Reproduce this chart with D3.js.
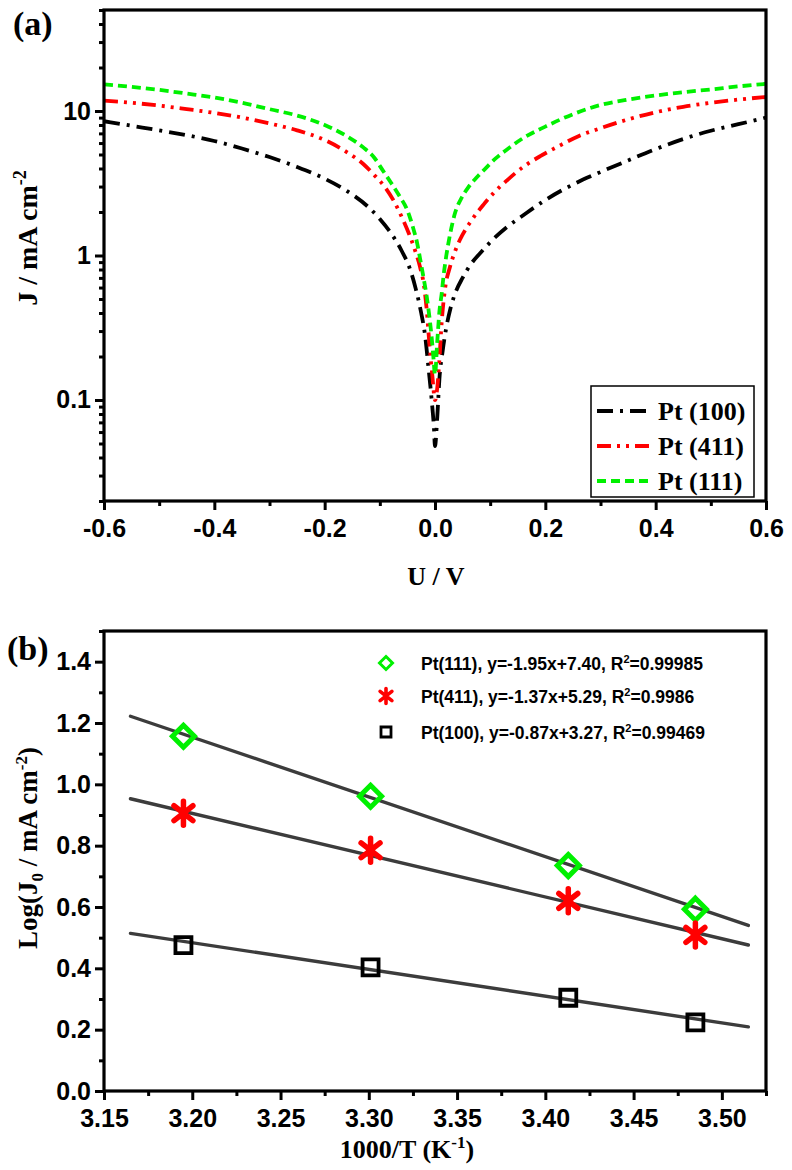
<!DOCTYPE html>
<html><head><meta charset="utf-8">
<script src="https://cdn.jsdelivr.net/npm/d3@7"></script>
<style>
html,body{margin:0;padding:0;background:#fff;}
svg{display:block;}
</style></head>
<body>
<svg id="chart" width="792" height="1170"></svg>
<script>
// ---------- Panel (a) data: |J| (mA cm^-2) vs U (V) ----------
const seriesNamesA = ["Pt (100)", "Pt (411)", "Pt (111)"];
const seriesColorsA = ["#000000", "#ff0000", "#00f000"];

const U_100 = [-0.60,-0.55,-0.50,-0.45,-0.40,-0.35,-0.30,-0.25,-0.20,-0.16,-0.12,-0.10,-0.08,-0.06,-0.045,-0.035,-0.025,-0.018,-0.012,-0.006,-0.002,0.000,0.004,0.008,0.014,0.020,0.028,0.036,0.050,0.065,0.085,0.105,0.13,0.16,0.20,0.25,0.30,0.35,0.40,0.45,0.50,0.55,0.60];
const J_100 = [8.5,7.9,7.35,6.8,6.2,5.5,4.8,4.1,3.4,2.8,2.15,1.79,1.43,1.07,0.80,0.59,0.40,0.28,0.17,0.10,0.065,0.048,0.075,0.14,0.22,0.31,0.43,0.54,0.70,0.87,1.07,1.29,1.57,1.9,2.42,3.1,3.78,4.55,5.45,6.4,7.3,8.1,9.0];

const U_411 = [-0.60,-0.55,-0.50,-0.45,-0.40,-0.35,-0.30,-0.25,-0.20,-0.16,-0.13,-0.11,-0.09,-0.075,-0.06,-0.047,-0.036,-0.027,-0.020,-0.015,-0.010,-0.005,0.000,0.004,0.008,0.012,0.018,0.027,0.036,0.045,0.063,0.088,0.106,0.13,0.16,0.19,0.22,0.26,0.30,0.35,0.40,0.45,0.50,0.55,0.60];
const J_411 = [11.8,11.4,10.9,10.3,9.7,9.0,8.2,7.35,6.3,5.2,4.3,3.6,2.95,2.4,1.84,1.41,1.08,0.83,0.62,0.42,0.24,0.15,0.10,0.12,0.19,0.34,0.58,0.83,1.06,1.28,1.68,2.25,2.7,3.3,4.1,4.85,5.6,6.7,7.6,8.75,9.8,10.7,11.4,12.0,12.5];

const U_111 = [-0.60,-0.55,-0.50,-0.45,-0.40,-0.35,-0.30,-0.25,-0.20,-0.16,-0.13,-0.11,-0.095,-0.08,-0.065,-0.05,-0.04,-0.032,-0.027,-0.021,-0.015,-0.011,-0.006,-0.003,0.000,0.004,0.008,0.012,0.016,0.020,0.024,0.030,0.036,0.048,0.06,0.075,0.09,0.11,0.13,0.16,0.20,0.25,0.30,0.35,0.40,0.45,0.50,0.55,0.60];
const J_111 = [15.3,14.7,14.0,13.2,12.4,11.4,10.3,9.3,8.0,6.7,5.6,4.75,3.9,3.2,2.6,2.05,1.57,1.2,0.95,0.71,0.52,0.40,0.27,0.20,0.15,0.25,0.41,0.54,0.75,0.97,1.2,1.57,1.95,2.5,2.95,3.45,3.95,4.7,5.4,6.5,7.8,9.5,11.0,12.0,12.8,13.5,14.1,14.8,15.4];

const xTicksA = [-0.6,-0.4,-0.2,0.0,0.2,0.4,0.6];
const xTickLabelsA = ["-0.6","-0.4","-0.2","0.0","0.2","0.4","0.6"];
const xMinorA = [-0.5,-0.3,-0.1,0.1,0.3,0.5];
const yTicksA = [0.1,1,10];
const yTickLabelsA = ["0.1","1","10"];

// ---------- Panel (b) data: Log(J0) vs 1000/T ----------
const invT = [3.195,3.301,3.413,3.485];
const logJ0_111 = [1.157,0.961,0.735,0.593];
const logJ0_411 = [0.906,0.785,0.620,0.509];
const logJ0_100 = [0.476,0.403,0.304,0.224];
// fitted line endpoints (x range and y at ends) as drawn
const fitX = [3.165,3.515];
const fit_111 = [1.222,0.540];
const fit_411 = [0.953,0.476];
const fit_100 = [0.514,0.209];
const legendB = ["Pt(111), y=-1.95x+7.40, R", "Pt(411), y=-1.37x+5.29, R", "Pt(100), y=-0.87x+3.27, R"];
const legendBTail = ["=0.99985", "=0.9986", "=0.99469"];

const xTicksB = [3.15,3.20,3.25,3.30,3.35,3.40,3.45,3.50];
const xTickLabelsB = ["3.15","3.20","3.25","3.30","3.35","3.40","3.45","3.50"];
const xMinorB = [3.175,3.225,3.275,3.325,3.375,3.425,3.475,3.525];
const yTicksB = [0.0,0.2,0.4,0.6,0.8,1.0,1.2,1.4];
const yTickLabelsB = ["0.0","0.2","0.4","0.6","0.8","1.0","1.2","1.4"];
const yMinorB = [0.1,0.3,0.5,0.7,0.9,1.1,1.3,1.5];

// ---------- drawing ----------
const SANS = "'Liberation Sans', Arial, Helvetica, sans-serif";
const SERIF = "'Liberation Serif', 'Times New Roman', Times, serif";
const TICKFS = 25;
const svg = d3.select("#chart");

function styleAxis(g) {
  g.select(".domain").remove();
  g.selectAll(".tick line").attr("stroke", "#000").attr("stroke-width", 3);
  g.selectAll(".tick text").attr("fill", "#000")
    .style("font-family", SANS).style("font-weight", "bold").style("font-size", TICKFS + "px");
}

// ===== Panel (a) =====
const A = {l:104, r:766, t:10, b:501};
const xA = d3.scaleLinear().domain([-0.6,0.6]).range([A.l, A.r]);
const yA = d3.scaleLog().domain([0.02,50]).range([A.b, A.t]);

const gA = svg.append("g");
gA.append("g").attr("transform",`translate(0,${A.b})`)
  .call(d3.axisBottom(xA).tickValues(xMinorA).tickSize(5).tickFormat(""))
  .call(styleAxis);
gA.append("g").attr("transform",`translate(${A.l},0)`)
  .call(d3.axisLeft(yA).tickValues(yA.ticks().filter(v => yTicksA.indexOf(v) < 0 && v>=0.02 && v<=50)).tickSize(5).tickFormat(""))
  .call(styleAxis);
gA.append("g").attr("transform",`translate(0,${A.b})`)
  .call(d3.axisBottom(xA).tickValues(xTicksA).tickSize(9).tickPadding(9).tickFormat((d,i)=>xTickLabelsA[i]))
  .call(styleAxis);
gA.append("g").attr("transform",`translate(${A.l},0)`)
  .call(d3.axisLeft(yA).tickValues(yTicksA).tickSize(9).tickPadding(4).tickFormat((d,i)=>yTickLabelsA[i]))
  .call(styleAxis);

const dashes = ["16,7,3,7", "14,6,3,6,3,6", "9,5"];
const dataA = [
  d3.zip(U_100, J_100),
  d3.zip(U_411, J_411),
  d3.zip(U_111, J_111)
];
const lineA = d3.line().x(d=>xA(d[0])).y(d=>yA(d[1])).curve(d3.curveMonotoneX);
gA.append("defs").append("clipPath").attr("id","clipA")
  .append("rect").attr("x",A.l).attr("y",A.t).attr("width",A.r-A.l).attr("height",A.b-A.t);
dataA.forEach((d,i)=>{
  gA.append("path").datum(d).attr("d", lineA)
    .attr("fill","none").attr("stroke", seriesColorsA[i]).attr("stroke-width",3.8)
    .attr("stroke-dasharray", dashes[i]).attr("clip-path","url(#clipA)");
});
gA.append("rect").attr("x",A.l).attr("y",A.t).attr("width",A.r-A.l).attr("height",A.b-A.t)
  .attr("fill","none").attr("stroke","#000").attr("stroke-width",3.2);

// legend (a)
const legA = gA.append("g");
legA.append("rect").attr("x",591).attr("y",386).attr("width",163).attr("height",111)
  .attr("fill","#fff").attr("stroke","#000").attr("stroke-width",1.5);
seriesNamesA.forEach((n,i)=>{
  const cy = 411 + i*35;
  legA.append("line").attr("x1",597).attr("x2",652).attr("y1",cy).attr("y2",cy)
    .attr("stroke",seriesColorsA[i]).attr("stroke-width",3.8).attr("stroke-dasharray",dashes[i]);
  legA.append("text").attr("x",658).attr("y",cy+9).text(n)
    .style("font-family",SERIF).style("font-weight","bold").style("font-size","26px");
});

// axis titles (a)
gA.append("text").attr("x",436).attr("y",585).attr("text-anchor","middle")
  .style("font-family",SERIF).style("font-weight","bold").style("font-size","26px").text("U / V");
const ylA = gA.append("text").attr("transform","translate(37,238) rotate(-90)").attr("text-anchor","middle")
  .style("font-family",SERIF).style("font-weight","bold").style("font-size","28px");
ylA.append("tspan").text("J /  mA cm");
ylA.append("tspan").attr("dy",-11).style("font-size","18px").text("-2");
svg.append("text").attr("x",13).attr("y",35)
  .style("font-family",SERIF).style("font-weight","bold").style("font-size","34px").text("(a)");

// ===== Panel (b) =====
const B = {l:104, r:766, t:631, b:1091};
const xB = d3.scaleLinear().domain([3.15,3.525]).range([B.l, B.r]);
const yB = d3.scaleLinear().domain([0,1.5]).range([B.b, B.t]);
const gB = svg.append("g");
gB.append("g").attr("transform",`translate(0,${B.b})`)
  .call(d3.axisBottom(xB).tickValues(xMinorB).tickSize(5).tickFormat(""))
  .call(styleAxis);
gB.append("g").attr("transform",`translate(${B.l},0)`)
  .call(d3.axisLeft(yB).tickValues(yMinorB).tickSize(5).tickFormat(""))
  .call(styleAxis);
gB.append("g").attr("transform",`translate(0,${B.b})`)
  .call(d3.axisBottom(xB).tickValues(xTicksB).tickSize(9).tickPadding(9).tickFormat((d,i)=>xTickLabelsB[i]))
  .call(styleAxis);
gB.append("g").attr("transform",`translate(${B.l},0)`)
  .call(d3.axisLeft(yB).tickValues(yTicksB).tickSize(9).tickPadding(4).tickFormat((d,i)=>yTickLabelsB[i]))
  .call(styleAxis);

// fit lines
const fits = [fit_111, fit_411, fit_100];
const lineB = d3.line().x(d=>xB(d[0])).y(d=>yB(d[1]));
fits.forEach(f=>{
  gB.append("path").datum(d3.zip(fitX, f)).attr("d", lineB)
    .attr("fill","none").attr("stroke","#3c3c3c").attr("stroke-width",3.4).attr("stroke-linecap","round");
});

function diamond(s){ return `M0,${-s}L${s},0L0,${s}L${-s},0Z`; }
function star(r){
  const a = 38*Math.PI/180, cx = r*Math.cos(a), sy = r*Math.sin(a);
  return `M0,${-r}L0,${r}M${-cx},${-sy}L${cx},${sy}M${-cx},${sy}L${cx},${-sy}`;
}
function square(s){ return `M${-s},${-s}H${s}V${s}H${-s}Z`; }

const green = "#00f000", red = "#ff0000";
gB.selectAll(".dia").data(d3.zip(invT, logJ0_111)).join("path")
  .attr("transform",d=>`translate(${xB(d[0])},${yB(d[1])})`).attr("d",diamond(11))
  .attr("fill","none").attr("stroke",green).attr("stroke-width",5);
gB.selectAll(".star").data(d3.zip(invT, logJ0_411)).join("path")
  .attr("transform",d=>`translate(${xB(d[0])},${yB(d[1])})`).attr("d",star(12))
  .attr("fill","none").attr("stroke",red).attr("stroke-width",5.5).attr("stroke-linecap","round");
gB.selectAll(".sq").data(d3.zip(invT, logJ0_100)).join("path")
  .attr("transform",d=>`translate(${xB(d[0])},${yB(d[1])})`).attr("d",square(8))
  .attr("fill","none").attr("stroke","#000").attr("stroke-width",3.8);

gB.append("rect").attr("x",B.l).attr("y",B.t).attr("width",B.r-B.l).attr("height",B.b-B.t)
  .attr("fill","none").attr("stroke","#000").attr("stroke-width",3.2);

// legend (b)
const legRowsY = [663, 696, 732];
const legMarks = [
  {d:diamond(6.5), c:green, w:3, cap:"butt"},
  {d:star(7.5), c:red, w:3.6, cap:"round"},
  {d:square(5), c:"#000", w:2.8, cap:"butt"}
];
legMarks.forEach((m,i)=>{
  gB.append("path").attr("transform",`translate(386,${legRowsY[i]})`).attr("d",m.d)
    .attr("fill","none").attr("stroke",m.c).attr("stroke-width",m.w).attr("stroke-linecap",m.cap);
  const t = gB.append("text").attr("x",421).attr("y",legRowsY[i]+7)
    .style("font-family",SANS).style("font-weight","bold").style("font-size","17.5px");
  t.append("tspan").text(legendB[i]);
  t.append("tspan").attr("dy",-7).style("font-size","11px").text("2");
  t.append("tspan").attr("dy",7).text(legendBTail[i]);
});

// axis titles (b)
const xlB = gB.append("text").attr("x",407).attr("y",1158).attr("text-anchor","middle")
  .style("font-family",SERIF).style("font-weight","bold").style("font-size","26px");
xlB.append("tspan").text("1000/T (K");
xlB.append("tspan").attr("dy",-10).style("font-size","17px").text("-1");
xlB.append("tspan").attr("dy",10).text(")");

const ylB = gB.append("text").attr("transform","translate(37,848) rotate(-90)").attr("text-anchor","middle")
  .style("font-family",SERIF).style("font-weight","bold").style("font-size","27px");
ylB.append("tspan").text("Log(J");
ylB.append("tspan").attr("dy",6).style("font-size","17px").text("0");
ylB.append("tspan").attr("dy",-6).text(" / mA cm");
ylB.append("tspan").attr("dy",-10).style("font-size","17px").text("-2");
ylB.append("tspan").attr("dy",10).text(")");

svg.append("text").attr("x",7).attr("y",660)
  .style("font-family",SERIF).style("font-weight","bold").style("font-size","34px").text("(b)");
</script>
</body></html>
